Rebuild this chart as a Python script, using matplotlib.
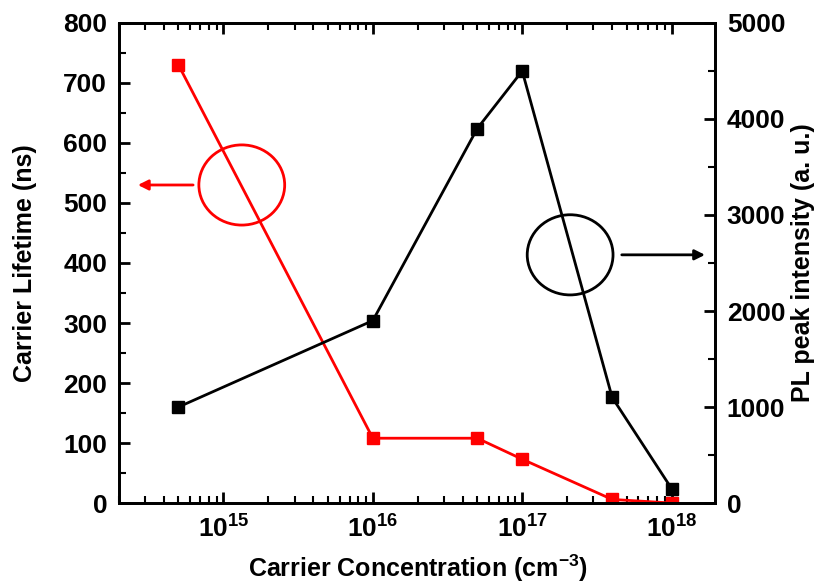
import numpy as np
import matplotlib
matplotlib.use('Agg')
import matplotlib.pyplot as plt
from matplotlib.patches import Ellipse
from matplotlib.ticker import LogLocator, MultipleLocator, NullFormatter

plt.rcParams['font.family'] = ['Liberation Sans', 'DejaVu Sans']
plt.rcParams['font.weight'] = 'bold'
plt.rcParams['mathtext.fontset'] = 'custom'
plt.rcParams['mathtext.rm'] = 'Liberation Sans:bold'
plt.rcParams['mathtext.it'] = 'Liberation Sans:bold'
plt.rcParams['mathtext.bf'] = 'Liberation Sans:bold'

# data
conc = [5e14, 1e16, 5e16, 1e17, 4e17, 1e18]
lifetime = [730, 108, 108, 73, 6, 0]          # ns, left axis
pl_intensity = [1000, 1900, 3900, 4500, 1100, 150]  # a.u., right axis

fig = plt.figure(figsize=(8.18, 5.86), dpi=100)
ax1 = fig.add_axes([0.1455, 0.1416, 0.7285, 0.8192])
ax2 = ax1.twinx()

ax1.plot(conc, lifetime, color='red', marker='s', markersize=8, linewidth=2)
ax2.plot(conc, pl_intensity, color='black', marker='s', markersize=8, linewidth=2)

ax1.set_xscale('log')
ax1.set_xlim(2e14, 1.95e18)
ax1.set_ylim(0, 800)
ax2.set_ylim(0, 5000)

ax1.xaxis.set_major_locator(LogLocator(base=10, numticks=10))
ax1.xaxis.set_minor_locator(LogLocator(base=10, subs=np.arange(2, 10), numticks=10))
ax1.xaxis.set_minor_formatter(NullFormatter())
ax1.yaxis.set_major_locator(MultipleLocator(100))
ax1.yaxis.set_minor_locator(MultipleLocator(50))
ax2.yaxis.set_major_locator(MultipleLocator(1000))
ax2.yaxis.set_minor_locator(MultipleLocator(500))

ax1.tick_params(axis='x', which='both', direction='in', top=True, bottom=True)
ax1.tick_params(axis='y', which='both', direction='in', left=True, right=False)
ax2.tick_params(axis='y', which='both', direction='in', right=True)
for ax in (ax1, ax2):
    ax.tick_params(which='major', length=8, width=2, labelsize=19, pad=8.5)
    ax.tick_params(which='minor', length=5, width=1.5)
    for s in ax.spines.values():
        s.set_linewidth(2)
ax1.tick_params(axis='x', pad=9)

ax1.set_xlabel('Carrier Concentration (cm$^{-3}$)', fontsize=18, fontweight='bold')
ax1.set_ylabel('Carrier Lifetime (ns)', fontsize=18, fontweight='bold')
ax2.set_ylabel('PL peak intensity (a. u.)', fontsize=18, fontweight='bold')
ax1.xaxis.set_label_coords(0.502, -0.104)
ax1.yaxis.set_label_coords(-0.138, 0.5)
ax2.yaxis.set_label_coords(1.1275, 0.5)

# circles with arrows pointing to the axes
ax1.add_patch(Ellipse((0.206, 0.6625), 0.144, 0.167, transform=ax1.transAxes,
                      fill=False, edgecolor='red', linewidth=2))
ax1.annotate('', xy=(0.027, 0.6625), xytext=(0.129, 0.6625), xycoords='axes fraction',
             arrowprops=dict(arrowstyle='-|>', color='red', lw=2, mutation_scale=15))
ax1.add_patch(Ellipse((0.757, 0.517), 0.144, 0.167, transform=ax1.transAxes,
                      fill=False, edgecolor='black', linewidth=2))
ax1.annotate('', xy=(0.988, 0.517), xytext=(0.839, 0.517), xycoords='axes fraction',
             arrowprops=dict(arrowstyle='-|>', color='black', lw=2, mutation_scale=15))

fig.savefig('out.png', dpi=100)
